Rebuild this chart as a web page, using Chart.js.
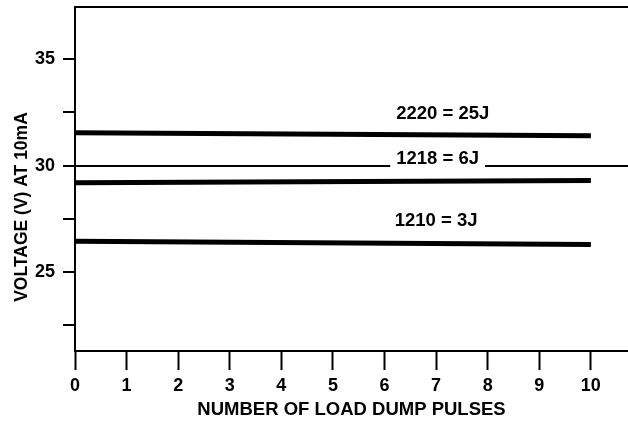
<!DOCTYPE html>
<html>
<head>
<meta charset="utf-8">
<script src="https://cdn.jsdelivr.net/npm/chart.js@4.4.0/dist/chart.umd.min.js"></script>
<style>
  html, body { margin: 0; padding: 0; background: #fff; }
  #wrap { width: 628px; height: 424px; }
</style>
</head>
<body>
<div id="wrap"><canvas id="c"></canvas></div>
<script>
// values (end points of each line)
const pulses = [0, 10]
const v2220 = [31.55, 31.4]
const v1218 = [29.2, 29.3]
const v1210 = [26.45, 26.3]
const seriesNames = ["2220 = 25J", "1218 = 6J", "1210 = 3J"]
const xTicks = [0, 1, 2, 3, 4, 5, 6, 7, 8, 9, 10]
const yTicks = [22.5, 25, 27.5, 30, 32.5, 35]
const yLabeled = [25, 30, 35]
const yTitle = "VOLTAGE (V) AT 10mA"
const xTitle = "NUMBER OF LOAD DUMP PULSES"

const FONT = "'Liberation Sans', Arial, sans-serif"

const toPoints = vals => pulses.map((p, i) => ({ x: p, y: vals[i] }))

// series label anchors in data units, plus y title, top frame line
const labelPlugin = {
  id: "labels",
  afterDatasetsDraw(chart) {
    const { ctx, chartArea, scales: { x, y } } = chart
    const anchors = [[7.13, 32.44, false], [7.03, 30.33, true], [7.0, 27.4, false]]
    ctx.save()
    ctx.font = "bold 18.5px " + FONT
    ctx.textAlign = "center"
    ctx.textBaseline = "middle"
    seriesNames.forEach((name, i) => {
      const [ax, ay, knockout] = anchors[i]
      const px = x.getPixelForValue(ax), py = y.getPixelForValue(ay)
      if (knockout) {
        const w = ctx.measureText(name).width + 12
        ctx.fillStyle = "#fff"
        ctx.fillRect(px - w / 2, py - 9, w, 18)
      }
      ctx.fillStyle = "#000"
      ctx.fillText(name, px, py)
    })

    // top frame line
    ctx.strokeStyle = "#000"
    ctx.lineWidth = 2
    ctx.beginPath()
    ctx.moveTo(chartArea.left - 1, chartArea.top)
    ctx.lineTo(chartArea.right, chartArea.top)
    ctx.stroke()

    // y axis title
    ctx.translate(22, 207)
    ctx.rotate(-Math.PI / 2)
    ctx.font = "bold 17.5px " + FONT
    ctx.fillText(yTitle, 0, 0)
    ctx.restore()
  }
}

new Chart(document.getElementById("c"), {
  type: "line",
  data: {
    datasets: [v2220, v1218, v1210].map((vals, i) => ({
      label: seriesNames[i],
      data: toPoints(vals),
      borderColor: "#000",
      borderWidth: 5,
      pointRadius: 0,
      fill: false
    }))
  },
  options: {
    responsive: true,
    maintainAspectRatio: false,
    animation: false,
    layout: { padding: { top: 7, right: 0, left: 0, bottom: 0 } },
    plugins: { legend: { display: false }, tooltip: { enabled: false } },
    scales: {
      x: {
        type: "linear",
        min: 0,
        max: 10.72,
        afterBuildTicks: s => { s.ticks = xTicks.map(v => ({ value: v })) },
        afterFit: s => { s.height = 73; s.paddingLeft = 0; s.paddingRight = 0 },
        border: { color: "#000", width: 2 },
        grid: { drawOnChartArea: false, tickLength: 19, tickColor: "#000", tickWidth: 2 },
        ticks: { color: "#000", font: { family: FONT, size: 18, weight: "bold" }, padding: 5, maxRotation: 0 },
        title: {
          display: true, text: xTitle, color: "#000",
          font: { family: FONT, size: 18.5, weight: "bold" },
          padding: { top: 0, bottom: 3 }
        }
      },
      y: {
        min: 21.3,
        max: 37.45,
        afterBuildTicks: s => { s.ticks = yTicks.map(v => ({ value: v })) },
        afterFit: s => { s.width = 75; s.paddingTop = 0; s.paddingBottom = 0 },
        border: { color: "#000", width: 2 },
        grid: {
          color: c => (c.tick && c.tick.value === 30 ? "#000" : "rgba(0,0,0,0)"),
          lineWidth: 2,
          tickLength: 12,
          tickColor: "#000",
          tickWidth: 2
        },
        ticks: {
          color: "#000",
          font: { family: FONT, size: 18, weight: "bold" },
          padding: 8,
          callback: v => (yLabeled.includes(v) ? String(v) : "")
        }
      }
    }
  },
  plugins: [labelPlugin]
})
</script>
</body>
</html>
